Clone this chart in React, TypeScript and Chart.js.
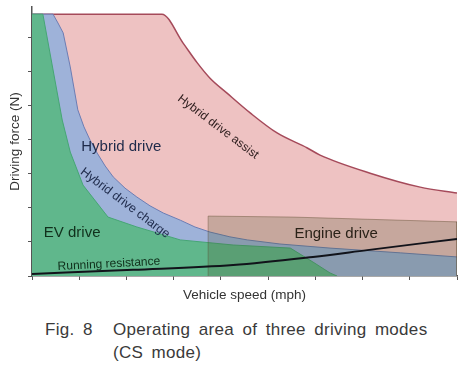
import React, { useEffect, useRef } from "react";
import { Chart, registerables } from "chart.js";

Chart.register(...registerables);

// ---- data (vehicle speed in axis units, driving force in axis units) ----
const speedTicks = [0, 1, 2, 3, 4, 5, 6, 7, 8, 9];

const assistSpeed = [0, 2.75, 3.2, 3.5, 3.77, 4.13, 4.62, 5.19, 5.83, 6.1, 7.16, 8.22, 9.0];
const assistForce = [7.69, 7.69, 6.84, 6.26, 5.81, 5.37, 4.79, 4.2, 3.76, 3.55, 3.02, 2.61, 2.44];

const chargeSpeed = [0, 0.445, 0.55, 0.66, 0.81, 0.97, 1.1, 1.23, 1.38, 1.55, 1.72, 1.97, 2.22, 2.5, 2.78, 3.14, 3.45, 3.77, 4.19, 4.56, 5.25, 6.31, 7.8, 9.0];
const chargeForce = [7.69, 7.69, 7.43, 7.14, 6.14, 4.88, 4.38, 3.99, 3.61, 3.23, 2.91, 2.58, 2.32, 2.06, 1.85, 1.64, 1.44, 1.29, 1.15, 1.06, 0.94, 0.82, 0.68, 0.56];

const evSpeed = [0, 0.23, 0.64, 0.81, 1.08, 1.61, 2.22, 3.14, 4.26, 5.47, 5.95, 6.31, 6.46];
const evForce = [7.69, 7.69, 4.58, 3.64, 2.67, 1.73, 1.44, 1.06, 0.91, 0.82, 0.41, 0.09, 0];

const engineSpeed = [3.73, 3.73, 5.53, 9.0, 9.0];
const engineForce = [0, 1.76, 1.73, 1.59, 0];

const resistanceSpeed = [0, 2.14, 4.26, 5.95, 7.1, 9.0];
const resistanceForce = [0.06, 0.18, 0.32, 0.56, 0.76, 1.09];

const labelTexts = ["Hybrid drive", "Hybrid drive charge", "Hybrid drive assist", "EV drive", "Running resistance", "Engine drive"];
const labelSpeed = [1.89, 1.97, 3.94, 0.85, 1.63, 6.44];
const labelForce = [3.79, 2.14, 4.38, 1.26, 0.35, 1.23];
const labelAngle = [0, 37, 37, 0, -3, 0];
const labelSize = [15, 12.5, 12, 15, 12, 15];
const labelColor = ["#1e2a4a", "#1e2a4a", "#2e1e1e", "#10301c", "#10301c", "#2a2218"];

const FONT = "'Liberation Sans', Arial, Helvetica, sans-serif";

const toPoints = (xs: number[], ys: number[]) => xs.map((x, i) => ({ x, y: ys[i] }));

const labelPlugin = {
  id: "regionLabels",
  afterDatasetsDraw(chart: any) {
    const { ctx, scales } = chart;
    ctx.save();
    labelTexts.forEach((t, i) => {
      const px = scales.x.getPixelForValue(labelSpeed[i]);
      const py = scales.y.getPixelForValue(labelForce[i]);
      ctx.save();
      ctx.translate(px, py);
      ctx.rotate((labelAngle[i] * Math.PI) / 180);
      ctx.font = `${labelSize[i]}px ${FONT}`;
      ctx.fillStyle = labelColor[i];
      ctx.textAlign = "center";
      ctx.textBaseline = "middle";
      ctx.fillText(t, 0, 0);
      ctx.restore();
    });
    ctx.restore();
  },
};

export default function App() {
  const canvasRef = useRef<HTMLCanvasElement | null>(null);

  useEffect(() => {
    const canvas = canvasRef.current;
    if (!canvas) return;
    const axisColor = "#555555";
    const chart = new Chart(canvas, {
      type: "line",
      data: {
        datasets: [
          {
            label: "Running resistance",
            data: toPoints(resistanceSpeed, resistanceForce),
            borderColor: "#11131a",
            borderWidth: 2,
            fill: false,
            cubicInterpolationMode: "monotone",
            pointRadius: 0,
            order: 0,
          },
          {
            label: "Engine drive",
            data: toPoints(engineSpeed, engineForce),
            borderColor: "rgba(90,70,40,0.4)",
            borderWidth: 1,
            backgroundColor: "rgba(70,85,40,0.24)",
            fill: "origin",
            tension: 0,
            pointRadius: 0,
            order: 1,
          },
          {
            label: "EV drive",
            data: toPoints(evSpeed, evForce),
            borderColor: "#46a675",
            borderWidth: 1,
            backgroundColor: "#60b78c",
            fill: "origin",
            tension: 0,
            pointRadius: 0,
            order: 2,
          },
          {
            label: "Hybrid drive charge",
            data: toPoints(chargeSpeed, chargeForce),
            borderColor: "#6c7db4",
            borderWidth: 1,
            backgroundColor: "#9eb2d9",
            fill: "origin",
            tension: 0,
            pointRadius: 0,
            order: 3,
          },
          {
            label: "Hybrid drive assist",
            data: toPoints(assistSpeed, assistForce),
            borderColor: "#a54a5a",
            borderWidth: 1.5,
            backgroundColor: "#eec2c2",
            fill: "origin",
            cubicInterpolationMode: "monotone",
            pointRadius: 0,
            order: 4,
          },
        ],
      },
      options: {
        animation: false,
        responsive: false,
        maintainAspectRatio: false,
        layout: { padding: { left: 5.3, right: 11, top: 7, bottom: 4.3 } },
        plugins: { legend: { display: false }, tooltip: { enabled: false } },
        elements: { point: { radius: 0 } },
        scales: {
          x: {
            type: "linear",
            min: speedTicks[0],
            max: speedTicks[speedTicks.length - 1],
            afterBuildTicks: (s: any) => {
              s.ticks = speedTicks.map((v) => ({ value: v }));
            },
            ticks: { display: false, includeBounds: false },
            grid: { display: true, drawOnChartArea: false, drawTicks: true, tickLength: 4, color: axisColor, lineWidth: 1 },
            border: { display: true, color: axisColor, width: 1.5 },
            title: {
              display: true,
              text: "Vehicle speed (mph)",
              color: "#333333",
              font: { family: FONT, size: 13.5 },
              padding: { top: 7.5, bottom: 2 },
            },
          },
          y: {
            type: "linear",
            min: 0,
            max: 7.9,
            ticks: { display: false, stepSize: 1, includeBounds: false },
            grid: { display: true, drawOnChartArea: false, drawTicks: true, tickLength: 4, color: axisColor, lineWidth: 1 },
            border: { display: true, color: axisColor, width: 1.5 },
            title: {
              display: true,
              text: "Driving force (N)",
              color: "#333333",
              font: { family: FONT, size: 13.5 },
              padding: { top: 2, bottom: 4.5 },
            },
          },
        },
      } as any,
      plugins: [labelPlugin],
    });
    return () => chart.destroy();
  }, []);

  const captionStyle: React.CSSProperties = {
    position: "absolute",
    fontFamily: FONT,
    fontSize: 17,
    lineHeight: "23px",
    color: "#3a3a3a",
    letterSpacing: "0.3px",
    wordSpacing: "3.4px",
    whiteSpace: "nowrap",
  };

  return (
    <div style={{ position: "absolute", left: 0, top: 0, width: 468, height: 372, background: "#ffffff", overflow: "hidden" }}>
      <canvas ref={canvasRef} width={468} height={310} style={{ position: "absolute", left: 0, top: 0, width: 468, height: 310 }} />
      <div style={{ ...captionStyle, left: 45, top: 318 }}>Fig. 8</div>
      <div style={{ ...captionStyle, left: 113, top: 318 }}>
        Operating area of three driving modes
        <br />
        (CS mode)
      </div>
    </div>
  );
}
